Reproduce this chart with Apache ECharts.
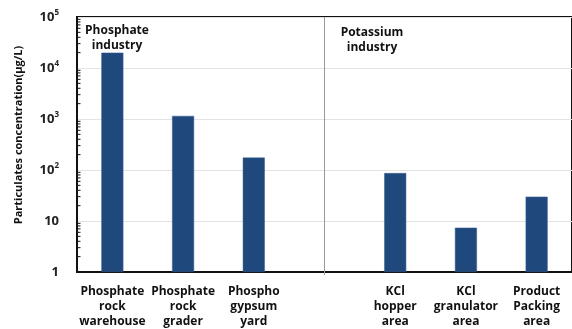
<!DOCTYPE html>
<html><head><meta charset="utf-8">
<script src="https://cdn.jsdelivr.net/npm/echarts@6/dist/echarts.min.js"></script>
<style>html,body{margin:0;padding:0;background:#fff}#c{width:572px;height:329px}</style>
</head><body><div id="c"></div>
<script>
var categories = ['Phosphate\nrock\nwarehouse','Phosphate\nrock\ngrader','Phospho\ngypsum\nyard','','KCl\nhopper\narea','KCl\ngranulator\narea','Product\nPacking\narea'];
var values = [20000, 1150, 175, null, 87, 7.4, 30];
var yMin = 1, yMax = 100000;
var groupLabels = ['Phosphate\nindustry','Potassium\nindustry'];
var yName = 'Particulates concentration(μg/L)';

var FONT = '"Open Sans","Noto Sans",sans-serif';
// minor log ticks (axis decoration)
var minorTicks = [];
for (var d = yMin; d < yMax; d *= 10) for (var m = 2; m <= 9; m++) minorTicks.push([0, d*m]);

var chart = echarts.init(document.getElementById('c'));
chart.setOption({
  animation:false,
  grid:{left:77, top:17, width:510, height:258, show:true, borderColor:'#111', borderWidth:2, backgroundColor:'transparent'},
  xAxis:{type:'category', data:categories,
    axisLine:{lineStyle:{color:'#111', width:2}}, axisTick:{show:false},
    axisLabel:{interval:0, margin:12, color:'#111', fontFamily:FONT, fontWeight:'bold', fontSize:12, lineHeight:15}},
  yAxis:{type:'log', logBase:10, min:yMin, max:yMax,
    axisLine:{show:true, lineStyle:{color:'#111', width:2}},
    axisTick:{inside:true, length:4, lineStyle:{color:'#111', width:1.5}},
    splitLine:{lineStyle:{color:'#e3e3e3', width:1}},
    axisLabel:{margin:18, color:'#222', fontFamily:FONT, fontWeight:'bold', fontSize:13,
      formatter:function(v){ var e=Math.round(Math.log10(v)); if(e===0) return '1'; if(e===1) return '10'; return '{b|10}{s|'+e+'}'; },
      rich:{b:{fontFamily:FONT, fontWeight:'bold', fontSize:13, color:'#222'}, s:{fontFamily:FONT, fontWeight:'bold', fontSize:8, color:'#222', verticalAlign:'top', padding:[0,0,8,0]}}}
  },
  series:[
    {type:'bar', data:values, barWidth:22, itemStyle:{color:'#1f497d', borderColor:'#3a5f8f', borderWidth:0.5},
     markLine:{silent:true, symbol:'none', label:{show:false}, lineStyle:{color:'#9a9a9a', type:'solid', width:1},
       data:[[{xAxis:3, y:17},{xAxis:3, y:275}]]}},
    {type:'custom', data:minorTicks, silent:true, z:5,
     renderItem:function(params, api){
       var cs = params.coordSys; var p = api.coord([0, api.value(1)]);
       return {type:'line', shape:{x1:cs.x, y1:p[1], x2:cs.x+3.5, y2:p[1]}, style:{stroke:'#111', lineWidth:1}};
     }}
  ],
  graphic:[
    {type:'text', x:19, y:135, rotation:Math.PI/2, style:{text:yName, font:'bold 11px '+FONT, fill:'#111', align:'center', verticalAlign:'middle'}},
    {type:'text', x:117, y:23, style:{text:groupLabels[0], font:'bold 12px '+FONT, fill:'#111', align:'center', lineHeight:15}},
    {type:'text', x:372, y:25, style:{text:groupLabels[1], font:'bold 12px '+FONT, fill:'#111', align:'center', lineHeight:15}}
  ]
});
</script></body></html>
